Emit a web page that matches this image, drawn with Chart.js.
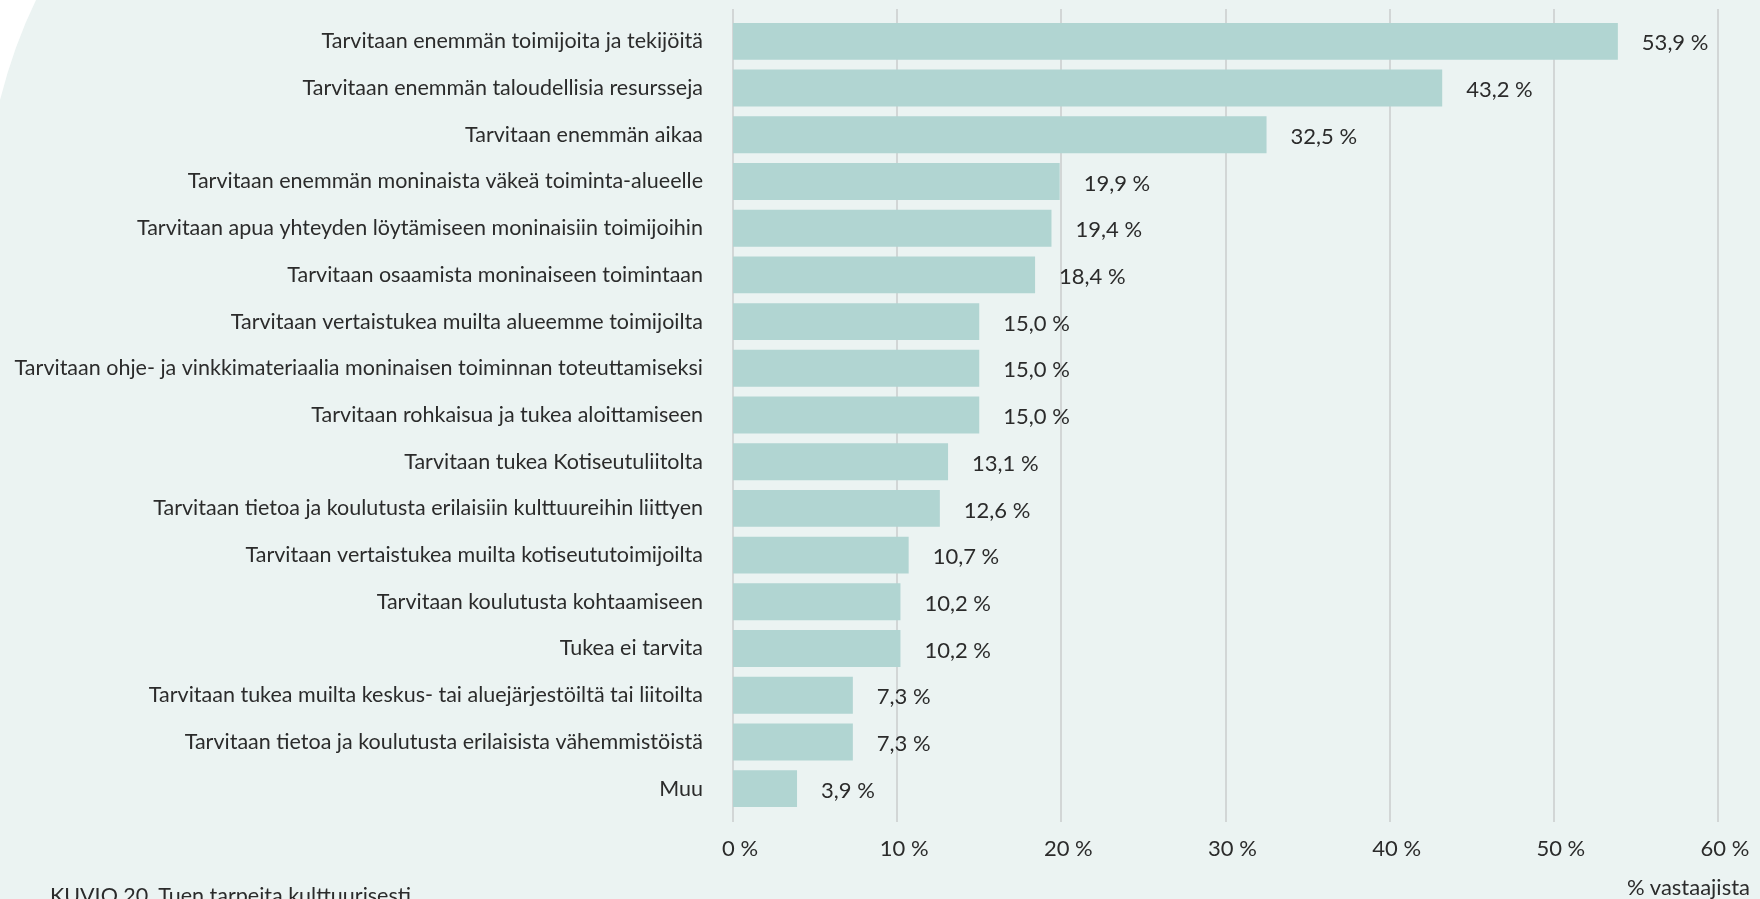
<!DOCTYPE html>
<html>
<head>
<meta charset="utf-8">
<script src="https://cdn.jsdelivr.net/npm/chart.js@4"></script>
<style>
  html, body { margin: 0; padding: 0; }
  body { width: 1760px; height: 899px; overflow: hidden; background: #EBF3F2; position: relative; font-family: Lato, "Noto Sans", sans-serif; color: #2B2B2B; }
  #wrap { position: absolute; left: 0; top: 0; width: 1760px; height: 899px; }
  #corner { position: absolute; left: 0; top: 0; }
  #unit { position: absolute; right: 10px; top: 873px; font-size: 22px; }
  #caption { position: absolute; left: 50px; top: 882px; font-size: 21.5px; white-space: nowrap; }
</style>
</head>
<body>
<svg id="corner" width="60" height="120"><path d="M0 0 L36 0 Q14 45 0 100 Z" fill="#ffffff"/></svg>
<div id="wrap"><canvas id="chart" width="1760" height="899"></canvas></div>
<div id="unit">% vastaajista</div>
<div id="caption">KUVIO 20. Tuen tarpeita kulttuurisesti</div>
<script>
//Categories, top to bottom
var categories = [
    'Tarvitaan enemmän toimijoita ja tekijöitä',
    'Tarvitaan enemmän taloudellisia resursseja',
    'Tarvitaan enemmän aikaa',
    'Tarvitaan enemmän moninaista väkeä toiminta-alueelle',
    'Tarvitaan apua yhteyden löytämiseen moninaisiin toimijoihin',
    'Tarvitaan osaamista moninaiseen toimintaan',
    'Tarvitaan vertaistukea muilta alueemme toimijoilta',
    'Tarvitaan ohje- ja vinkkimateriaalia moninaisen toiminnan toteuttamiseksi',
    'Tarvitaan rohkaisua ja tukea aloittamiseen',
    'Tarvitaan tukea Kotiseutuliitolta',
    'Tarvitaan tietoa ja koulutusta erilaisiin kulttuureihin liittyen',
    'Tarvitaan vertaistukea muilta kotiseututoimijoilta',
    'Tarvitaan koulutusta kohtaamiseen',
    'Tukea ei tarvita',
    'Tarvitaan tukea muilta keskus- tai aluejärjestöiltä tai liitoilta',
    'Tarvitaan tietoa ja koulutusta erilaisista vähemmistöistä',
    'Muu'
];

//Share of respondents, %
var shares = [53.9, 43.2, 32.5, 19.9, 19.4, 18.4, 15.0, 15.0, 15.0, 13.1, 12.6, 10.7, 10.2, 10.2, 7.3, 7.3, 3.9];

//X axis ticks
var tickValues = [0, 10, 20, 30, 40, 50, 60];
var tickLabels = ['0 %', '10 %', '20 %', '30 %', '40 %', '50 %', '60 %'];

var textColor = '#2B2B2B';
var font = 'Lato, "Noto Sans", sans-serif';

//Vertical gridlines, a bit longer than the plot area
var gridLines = {
    id: 'gridLines',
    beforeDatasetsDraw: function(chart) {
        var ctx = chart.ctx;
        var x = chart.scales.x;
        ctx.save();
        ctx.strokeStyle = '#D2D6D6';
        ctx.lineWidth = 2;
        for (var i = 0; i < tickValues.length; i++) {
            var px = Math.round(x.getPixelForValue(tickValues[i]));
            ctx.beginPath();
            ctx.moveTo(px, chart.chartArea.top - 9);
            ctx.lineTo(px, chart.chartArea.bottom + 10);
            ctx.stroke();
        }
        ctx.restore();
    }
};

//Value labels next to the bars
var valueLabels = {
    id: 'valueLabels',
    afterDatasetsDraw: function(chart) {
        var ctx = chart.ctx;
        var bars = chart.getDatasetMeta(0).data;
        ctx.save();
        ctx.fillStyle = textColor;
        ctx.font = '22px ' + font;
        ctx.textAlign = 'left';
        ctx.textBaseline = 'middle';
        for (var i = 0; i < bars.length; i++) {
            var txt = shares[i].toFixed(1).replace('.', ',') + ' %';
            ctx.fillText(txt, bars[i].x + 24, bars[i].y + 2);
        }
        ctx.restore();
    }
};

var ctx = document.getElementById('chart').getContext('2d');
var chart = new Chart(ctx, {
    type: 'bar',
    data: {
        labels: categories,
        datasets: [{
            data: shares,
            backgroundColor: '#B1D5D2',
            borderWidth: 0,
            categoryPercentage: 1,
            barPercentage: 0.79
        }]
    },
    options: {
        indexAxis: 'y',
        responsive: false,
        animation: false,
        devicePixelRatio: 1,
        layout: { padding: { left: 0, right: 42, top: 18, bottom: 27 } },
        plugins: {
            legend: { display: false },
            tooltip: { enabled: false }
        },
        scales: {
            x: {
                min: 0,
                max: 60,
                afterFit: function(s) {
                    s.height = 60;
                    s.paddingLeft = 0;
                    s.paddingRight = 0;
                },
                afterBuildTicks: function(s) {
                    s.ticks = tickValues.map(function(v) { return { value: v }; });
                },
                grid: { display: false },
                border: { display: false },
                ticks: {
                    padding: 16,
                    labelOffset: 7,
                    color: textColor,
                    font: { family: font, size: 22 },
                    callback: function(v) { return tickLabels[tickValues.indexOf(v)]; }
                }
            },
            y: {
                afterFit: function(s) {
                    s.width = 733;
                    s.paddingTop = 0;
                    s.paddingBottom = 0;
                },
                grid: { display: false },
                border: { display: false },
                ticks: {
                    padding: 22,
                    color: textColor,
                    font: { family: font, size: 21.5 },
                    autoSkip: false
                }
            }
        }
    },
    plugins: [gridLines, valueLabels]
});
</script>
</body>
</html>
